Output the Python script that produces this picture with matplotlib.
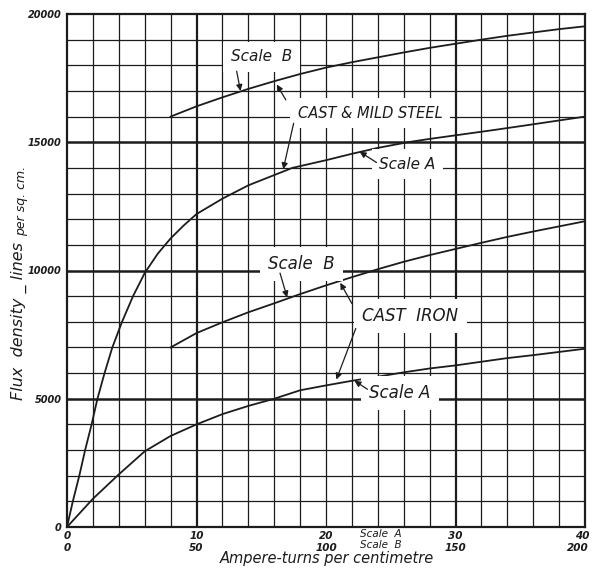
import matplotlib.pyplot as plt
import matplotlib.transforms as mtransforms
import numpy as np

# Scale A runs 0-40 ampere-turns/cm, Scale B runs 0-200 (same width)
steel_a_at = [0, 0.45, 0.95, 1.4, 1.9, 2.35, 2.9, 3.5, 4.25, 5.1, 6, 7, 8, 9,
              10, 12, 14, 16, 17.4, 20, 22, 24, 26.3, 28, 30, 33, 36, 40]
steel_a_flux = [0, 1000, 2000, 3000, 4000, 5000, 6000, 7000, 8000, 9000, 9900, 10650,
                11250, 11750, 12200, 12800, 13320, 13720, 14000, 14300, 14550, 14780,
                15000, 15130, 15270, 15480, 15700, 16000]

steel_b_at = [40, 50, 60, 70, 80, 90, 100, 110, 120, 130, 140, 150, 160, 170, 180, 190, 200]
steel_b_flux = [16000, 16400, 16750, 17080, 17380, 17660, 17910, 18120, 18310, 18500,
                18680, 18840, 19000, 19150, 19280, 19410, 19520]

iron_a_at = [0, 2, 4, 6, 8, 10, 12, 14, 16, 18, 20, 22, 24, 26, 28, 30, 34, 36, 40]
iron_a_flux = [0, 1100, 2050, 2950, 3550, 4000, 4400, 4720, 5000, 5330, 5520, 5700,
               5860, 6030, 6180, 6300, 6585, 6700, 6950]

iron_b_at = [40, 50, 60, 70, 80, 90, 100, 110, 120, 130, 140, 150, 160, 170, 180, 190, 200]
iron_b_flux = [7000, 7560, 7980, 8370, 8720, 9080, 9420, 9740, 10050, 10340, 10600,
               10840, 11080, 11310, 11520, 11720, 11920]

scale_a_ticks = [0, 10, 20, 30, 40]
scale_b_ticks = [0, 50, 100, 150, 200]
flux_ticks = [0, 5000, 10000, 15000, 20000]

ink = "#1c1c1c"
plt.rcParams["font.family"] = "DejaVu Sans"
plt.rcParams["font.style"] = "italic"

fig = plt.figure(figsize=(5.94, 5.68), dpi=100)
ax = fig.add_axes([67 / 594, 41 / 568, 518 / 594, 513 / 568])
ax.set_xlim(0, 40)
ax.set_ylim(0, 20000)

# squared paper: light lines every 2 units / 1000 lines, heavier ones picked out
for x in np.arange(2, 40, 2):
    lw = 1.6 if x in (10, 30) else 0.9
    ax.axvline(x, color=ink, lw=lw, zorder=1)
for y in np.arange(1000, 20000, 1000):
    lw = 1.8 if y % 5000 == 0 else 0.9
    ax.axhline(y, color=ink, lw=lw, zorder=1)
for s in ax.spines.values():
    s.set_linewidth(1.6)
    s.set_color(ink)

ax.set_xticks(scale_a_ticks)
ax.set_xticklabels([str(t) for t in scale_a_ticks], fontsize=7.5, fontweight="bold")
ax.set_yticks(flux_ticks)
ax.set_yticklabels([str(t) for t in flux_ticks], fontsize=7, fontweight="bold")
ax.tick_params(length=0, pad=3, colors=ink)
ax.tick_params(axis="y", pad=4)

ax.plot(steel_a_at, steel_a_flux, color=ink, lw=1.3, zorder=3)
ax.plot(iron_a_at, iron_a_flux, color=ink, lw=1.3, zorder=3)

# second abscissa for the Scale B curves
ax2 = ax.twiny()
ax2.set_xlim(0, 200)
ax2.xaxis.tick_bottom()
ax2.set_xticks(scale_b_ticks)
ax2.set_xticklabels([str(t) for t in scale_b_ticks], fontsize=7.5, fontweight="bold")
ax2.tick_params(length=0, pad=11.5, colors=ink)
for s in ax2.spines.values():
    s.set_visible(False)

# last pair of labels sits flush with the right-hand border
ax.get_xticklabels()[-1].set_ha("right")
ax2.get_xticklabels()[-1].set_ha("right")
nudge = mtransforms.ScaledTranslation(3 / 72, 0, fig.dpi_scale_trans)
for lab in (ax.get_xticklabels()[-1], ax2.get_xticklabels()[-1]):
    lab.set_transform(lab.get_transform() + nudge)

ax2.plot(steel_b_at, steel_b_flux, color=ink, lw=1.3, zorder=3)
ax2.plot(iron_b_at, iron_b_flux, color=ink, lw=1.3, zorder=3)

# curve labels (positions in Scale A units)
labels = [
    ("Scale  B", 15.0, 18330, 11),
    ("CAST & MILD STEEL", 23.4, 16130, 10.5),
    ("Scale A", 26.3, 14150, 11),
    ("Scale  B", 18.1, 10250, 12),
    ("CAST  IRON", 26.5, 8220, 12),
    ("Scale A", 25.7, 5220, 12),
]
for txt, x, y, fs in labels:
    ax2.text(x, y, txt, transform=ax.transData, fontsize=fs, color=ink,
             ha="center", va="center", zorder=5,
             bbox=dict(boxstyle="square,pad=0.5", fc="white", ec="none"))

arrows = [
    ((13.1, 17770), (13.4, 17000)),
    ((16.9, 16650), (16.2, 17250)),
    ((17.5, 15740), (16.7, 13950)),
    ((23.9, 14210), (22.6, 14630)),
    ((16.45, 9900), (17.0, 8950)),
    ((22.0, 8710), (21.1, 9520)),
    ((22.3, 7740), (20.8, 5750)),
    ((23.2, 5370), (22.2, 5700)),
]
for start, tip in arrows:
    ax2.annotate("", xy=tip, xytext=start, xycoords=ax.transData,
                 textcoords=ax.transData, zorder=6,
                 arrowprops=dict(arrowstyle="-|>", color=ink, lw=0.9,
                                 mutation_scale=9, shrinkA=0, shrinkB=0))

xa = ax.get_xaxis_transform()
ax.text(24.2, -0.014, "Scale  A", transform=xa, fontsize=7.5, color=ink,
        ha="center", va="center")
ax.text(24.2, -0.035, "Scale  B", transform=xa, fontsize=7.5, color=ink,
        ha="center", va="center")

fig.text(327 / 594, 1 - 559 / 568, "Ampere-turns per centimetre", fontsize=10.5,
         color=ink, ha="center", va="center")
fig.text(19 / 594, 1 - 400 / 568, "Flux  density _ lines", fontsize=11.5,
         color=ink, rotation=90, ha="center", va="bottom")
fig.text(22 / 594, 1 - 236 / 568, "per sq. cm.", fontsize=9, color=ink,
         rotation=90, ha="center", va="bottom")

fig.savefig("out.png", dpi=100, facecolor="white")
